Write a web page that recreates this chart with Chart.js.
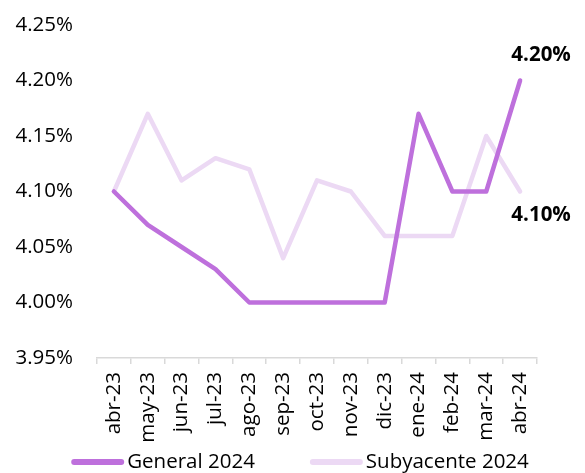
<!DOCTYPE html>
<html>
<head>
<meta charset="utf-8">
<script src="https://cdn.jsdelivr.net/npm/chart.js@4"></script>
<style>
  html, body { margin: 0; padding: 0; background: #fff; }
  #wrap { width: 585px; height: 473px; }
</style>
</head>
<body>
<div id="wrap"><canvas id="chart" width="585" height="473"></canvas></div>
<script>
'use strict';

// ─── Data ─────────────────────────────────────────────────────────────────────
const months     = ['abr-23', 'may-23', 'jun-23', 'jul-23', 'ago-23', 'sep-23', 'oct-23',
                    'nov-23', 'dic-23', 'ene-24', 'feb-24', 'mar-24', 'abr-24'];
const general    = [4.10, 4.07, 4.05, 4.03, 4.00, 4.00, 4.00, 4.00, 4.00, 4.17, 4.10, 4.10, 4.20];
const subyacente = [4.10, 4.17, 4.11, 4.13, 4.12, 4.04, 4.11, 4.10, 4.06, 4.06, 4.06, 4.15, 4.10];
const yTicks     = [3.95, 4.00, 4.05, 4.10, 4.15, 4.20, 4.25];

const FONT = '"Open Sans", "Noto Sans", sans-serif';
const FONT_SIZE = 20.5;
const COL_GENERAL = '#BE70DC';
const COL_SUBY    = '#ECD9F4';

// ─── Last-point labels ────────────────────────────────────────────────────────
const endLabels = {
  id: 'endLabels',
  afterDatasetsDraw(chart) {
    const ctx = chart.ctx;
    ctx.save();
    ctx.font = `bold ${FONT_SIZE}px ${FONT}`;
    ctx.fillStyle = '#000';
    ctx.textAlign = 'center';
    chart.data.datasets.forEach((ds, i) => {
      const meta = chart.getDatasetMeta(i);
      const pt = meta.data[meta.data.length - 1];
      const val = ds.data[ds.data.length - 1];
      const above = i === 0;
      ctx.textBaseline = 'middle';
      ctx.fillText(val.toFixed(2) + '%', pt.x + 21, above ? pt.y - 25 : pt.y + 24);
    });
    ctx.restore();
  },
};

// ─── Legend (line swatch right next to the text) ─────────────────────────────
const lineLegend = {
  id: 'lineLegend',
  afterDraw(chart) {
    const ctx = chart.ctx;
    const swatch = 53, gap = 3, itemGap = 55, y = 462;
    ctx.save();
    ctx.font = `${FONT_SIZE}px ${FONT}`;
    const items = chart.data.datasets.map(ds => ({
      text: ds.label, color: ds.borderColor, w: ctx.measureText(ds.label).width,
    }));
    const total = items.reduce((s, it) => s + swatch + gap + it.w, 0) + itemGap * (items.length - 1);
    let x = 300 - total / 2;
    items.forEach(it => {
      ctx.strokeStyle = it.color;
      ctx.lineWidth = 6;
      ctx.lineCap = 'round';
      ctx.beginPath();
      ctx.moveTo(x + 3, y);
      ctx.lineTo(x + swatch - 3, y);
      ctx.stroke();
      ctx.fillStyle = '#000';
      ctx.textBaseline = 'middle';
      ctx.textAlign = 'left';
      ctx.fillText(it.text, x + swatch + gap, y);
      x += swatch + gap + it.w + itemGap;
    });
    ctx.restore();
  },
};

// ─── Chart ────────────────────────────────────────────────────────────────────
new Chart(document.getElementById('chart').getContext('2d'), {
  type: 'line',
  data: {
    labels: months,
    datasets: [
      {
        label: 'General 2024',
        data: general,
        borderColor: COL_GENERAL,
        backgroundColor: COL_GENERAL,
        borderWidth: 4.5,
        pointRadius: 0,
        tension: 0,
        borderJoinStyle: 'round',
        borderCapStyle: 'round',
      },
      {
        label: 'Subyacente 2024',
        data: subyacente,
        borderColor: COL_SUBY,
        backgroundColor: COL_SUBY,
        borderWidth: 4.5,
        pointRadius: 0,
        tension: 0,
        borderJoinStyle: 'round',
        borderCapStyle: 'round',
      },
    ],
  },
  options: {
    responsive: false,
    animation: false,
    layout: { padding: { left: 0, right: 48, top: 25, bottom: 27 } },
    plugins: {
      legend: { display: false },
      tooltip: { enabled: false },
    },
    scales: {
      x: {
        offset: true,
        afterFit: axis => { axis.height = 88; },
        grid: {
          offset: true,
          drawOnChartArea: false,
          drawTicks: true,
          tickLength: 6,
          color: '#D9D9D9',
          lineWidth: 1.5,
        },
        border: { display: true, color: '#D9D9D9', width: 1.5 },
        ticks: {
          color: '#000',
          font: { family: FONT, size: FONT_SIZE },
          maxRotation: 90,
          minRotation: 90,
          padding: 8,
          autoSkip: false,
        },
      },
      y: {
        min: 3.95,
        max: 4.25,
        afterFit: axis => {
          axis.width = 97;
          axis.paddingTop = 0;
          axis.paddingBottom = 0;
        },
        afterBuildTicks: axis => { axis.ticks = yTicks.map(v => ({ value: v })); },
        grid: { display: false },
        border: { display: false },
        ticks: {
          color: '#000',
          font: { family: FONT, size: FONT_SIZE },
          padding: 16,
          callback: v => v.toFixed(2) + '%',
        },
      },
    },
  },
  plugins: [endLabels, lineLegend],
});
</script>
</body>
</html>
